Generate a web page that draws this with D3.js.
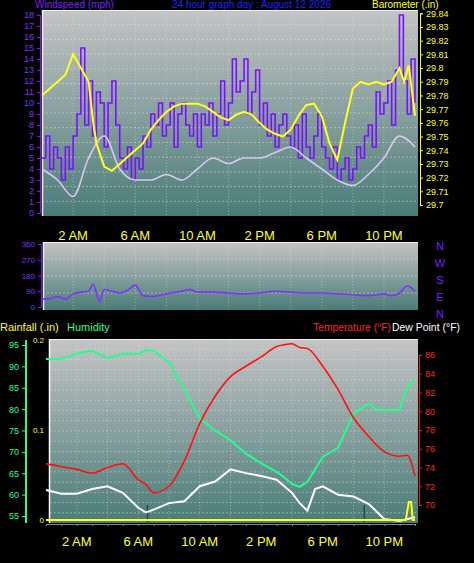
<!DOCTYPE html>
<html><head><meta charset="utf-8">
<script src="https://cdn.jsdelivr.net/npm/d3@7"></script>
<style>body{margin:0;background:#000}svg{display:block}</style>
</head><body><svg id="c" width="474" height="563"></svg>
<script>
// ---- data ----
const timeLabels = ["2 AM","6 AM","10 AM","2 PM","6 PM","10 PM"];
const timeLabelHours = [2,6,10,14,18,22];
const windTicks = d3.range(0,19);
const baroTicks = [29.7,29.71,29.72,29.73,29.74,29.75,29.76,29.77,29.78,29.79,29.8,29.81,29.82,29.83,29.84];
// windspeed every 15 min
const windGust = [5,7,4,6, 5,3,6,4, 7,9,15,8, 12,7,11,10, 6,10,12,8, 5,4,6,3, 5,4,7,6, 9,8,10,7,
  8,10,6,9, 10,8,7,9, 6,9,8,10, 7,9,12,8, 10,14,11,12, 14,9,11,13, 8,10,7,9, 6,8,9,7,
  6,8,5,9, 6,5,7,9, 6,5,4,6, 3,4,5,3, 4,6,5,7, 8,6,11,9, 10,12,8,13, 18,12,9,14,10];
// average wind hourly
const windAvg = [4,3,1.5,5,7,4,3,3,3.5,3,4,5,4.5,5,5,5.5,6,5,4,3,2.5,3.5,5,7,6];
const baroHours = [0,0.5,1,1.5,2,2.5,3,3.3,3.5,4,4.5,5,5.5,6,6.5,7,7.5,8,8.5,9,9.5,10,10.5,11,11.5,12,12.5,13,13.5,14,14.5,15,15.5,16,16.5,17,17.5,18,18.5,19,19.5,20,20.5,21,21.5,22,22.5,23,23.3,23.6,24];
const baroVals = [29.78,29.785,29.79,29.795,29.81,29.80,29.79,29.76,29.745,29.728,29.725,29.73,29.735,29.74,29.745,29.755,29.762,29.768,29.772,29.774,29.774,29.774,29.772,29.768,29.764,29.762,29.766,29.768,29.766,29.76,29.755,29.752,29.75,29.755,29.765,29.773,29.774,29.765,29.745,29.733,29.76,29.785,29.79,29.788,29.79,29.788,29.79,29.80,29.79,29.802,29.765];
const dirHours = [0,0.5,1,1.5,2,2.5,3,3.3,3.7,4,4.5,5,5.5,6,6.5,7,8,9,9.5,10,11,12,13,14,15,16,17,18,19,20,21,22,22.5,23,23.5,24];
const dirVals = [45,48,60,45,75,85,90,130,30,100,90,80,95,125,65,60,75,90,100,85,85,80,75,80,90,85,80,80,75,70,65,75,65,80,120,90];
const dirLabels = ["N","W","S","E","N"];
const humTicks = [55,60,65,70,75,80,85,90,95];
const tempTicks = [70,72,74,76,78,80,82,84,86];
const rainTicks = [0,0.1,0.2];
const hrHours = [0,1,2,3,4,5,6,6.5,7,8,9,10,11,12,13,14,15,15.5,16,16.5,17,18,19,20,21,21.5,22,23,23.5,24];
const temp = [74.4,74.1,73.8,73.4,74.0,74.4,72.7,72.2,71.3,72.0,74.7,78.7,81.6,83.7,84.8,85.8,86.9,87.1,87.2,86.8,86.7,84.8,82.3,79.3,77.3,76.4,75.7,75.2,75.3,73.1];
const humidity = [91.7,91.7,93,93.7,91.9,92.9,92.9,93.8,93.6,91,84.5,77.8,75,72.7,69.6,67.3,65.3,64,62.5,61.8,63,68.8,71,79,81.3,79.8,79.8,79.8,85.2,86.8];
const dewHours = [0,1,2,3,4,5,6,6.5,7,8,9,10,11,12,13,14,15,16,16.5,17,17.5,18,19,20,21,22,23,24];
const dew = [71.6,71.2,71.2,71.7,72.0,71.3,69.7,69.2,69.5,70.2,70.4,72.0,72.5,73.8,73.4,73.1,72.7,71.3,70.2,69.4,71.7,72.0,71.1,70.9,70.1,68.5,68.3,68.7];
const rainHours = [0,23.4,23.6,23.75,23.85,24];
const rain = [0,0,0.02,0.02,0,0];

// ---- drawing ----
const svg = d3.select("#c");
const F = "Liberation Sans, Arial, sans-serif";
const x = d3.scaleLinear().domain([0,24]).range([42,415]);

const defs = svg.append("defs");
const g = defs.append("linearGradient").attr("id","bg").attr("x1",0).attr("y1",0).attr("x2",0).attr("y2",1);
g.append("stop").attr("offset","0%").attr("stop-color","#c4c4c4");
g.append("stop").attr("offset","100%").attr("stop-color","#4a7c78");

function panel(x0,y0,x1,y1,nh){
  svg.append("rect").attr("x",x0).attr("y",y0).attr("width",x1-x0).attr("height",y1-y0).attr("fill","url(#bg)");
  for(let i=1;i<nh;i++){const yy=y0+(y1-y0)*i/nh;
    svg.append("line").attr("x1",x0).attr("x2",x1).attr("y1",yy).attr("y2",yy).attr("stroke","#e8e8e8").attr("stroke-opacity",0.45).attr("stroke-dasharray","2,2");}
  for(let h=2;h<24;h+=2){const xx=x(h);
    svg.append("line").attr("x1",xx).attr("x2",xx).attr("y1",y0).attr("y2",y1).attr("stroke","#e8e8e8").attr("stroke-opacity",0.4).attr("stroke-dasharray","1,2");}
  svg.append("line").attr("x1",x0).attr("x2",x1).attr("y1",y0+0.5).attr("y2",y0+0.5).attr("stroke","#eee");
  svg.append("line").attr("x1",x0+0.5).attr("x2",x0+0.5).attr("y1",y0).attr("y2",y1).attr("stroke","#eee").attr("stroke-width",1.5);
}
function timeAxis(y){
  svg.selectAll(null).data(timeLabelHours).enter().append("text").attr("x",d=>x(d)).attr("y",y)
   .attr("text-anchor","middle").attr("fill","#ffff33").attr("font-family",F).attr("font-size",13).text((d,i)=>timeLabels[i]);
}

// --- top panel ---
const yW = d3.scaleLinear().domain([0,18]).range([213,15]);
const yB = d3.scaleLinear().domain([29.7,29.84]).range([205,13.3]);
panel(42,10,418,216,14);
const wl = d3.line().x((d,i)=>x(i*0.25)).y(d=>yW(d)).curve(d3.curveStepAfter);
svg.append("path").attr("d",wl(windGust)).attr("fill","none").attr("stroke","#7a10ff").attr("stroke-width",1.6);
svg.append("path").attr("d",d3.line().x((d,i)=>x(i)).y(d=>yW(d)).curve(d3.curveMonotoneX)(windAvg)).attr("fill","none").attr("stroke","#d8c8f0").attr("stroke-width",1.6);
svg.append("path").attr("d",d3.line().x((d,i)=>x(baroHours[i])).y(d=>yB(d))(baroVals)).attr("fill","none").attr("stroke","#ffff20").attr("stroke-width",2);
const gl = svg.append("g").attr("transform","translate(40,0)").call(d3.axisLeft(yW).tickValues(windTicks).tickSize(3).tickFormat(d3.format("d")));
gl.selectAll("text").attr("fill","#8030ff").attr("font-family",F).attr("font-size",9);
gl.selectAll("line,path").attr("stroke","#7a10ff");
const gr = svg.append("g").attr("transform","translate(420,0)").call(d3.axisRight(yB).tickValues(baroTicks).tickSize(3).tickFormat(d=>d3.format(".2f")(d).replace(/0$/,"").replace(/\.$/,"")));
gr.selectAll("text").attr("fill","#ffff20").attr("font-family",F).attr("font-size",9);
gr.selectAll("line,path").attr("stroke","#ffff20");
svg.append("text").attr("x",35).attr("y",8).attr("fill","#7a20ff").attr("font-family",F).attr("font-size",10).text("Windspeed (mph)");
svg.append("text").attr("x",172).attr("y",8).attr("fill","#2020ff").attr("font-family",F).attr("font-size",10).text("24 hour graph day : August 12 2026");
svg.append("text").attr("x",372).attr("y",8).attr("fill","#ffff20").attr("font-family",F).attr("font-size",10).text("Barometer (.in)");
timeAxis(240);

// --- direction panel ---
const yD = d3.scaleLinear().domain([0,360]).range([307,244]);
panel(43,242,418,310,4);
svg.append("path").attr("d",d3.line().x((d,i)=>x(dirHours[i])).y(d=>yD(d)).curve(d3.curveMonotoneX)(dirVals)).attr("fill","none").attr("stroke","#8030ff").attr("stroke-width",1.6);
const gd = svg.append("g").attr("transform","translate(41,0)").call(d3.axisLeft(yD).tickValues([0,90,180,270,360]).tickSize(3));
gd.selectAll("text").attr("fill","#8030ff").attr("font-family",F).attr("font-size",8);
gd.selectAll("line,path").attr("stroke","#7a10ff");
svg.selectAll(null).data(dirLabels).enter().append("text").attr("x",440).attr("y",(d,i)=>250+i*17).attr("text-anchor","middle")
  .attr("fill","#7a20ff").attr("font-family",F).attr("font-size",11).text(d=>d);

// legend
svg.append("text").attr("x",0).attr("y",331).attr("fill","#ffff20").attr("font-family",F).attr("font-size",11).text("Rainfall (.in)");
svg.append("text").attr("x",67).attr("y",331).attr("fill","#20ff90").attr("font-family",F).attr("font-size",11).text("Humidity");
svg.append("text").attr("x",313).attr("y",331).attr("fill","#ff2020").attr("font-family",F).attr("font-size",10.5).attr("textLength",78).attr("lengthAdjust","spacingAndGlyphs").text("Temperature (°F)");
svg.append("text").attr("x",392).attr("y",331).attr("fill","#ffffff").attr("font-family",F).attr("font-size",10.5).attr("textLength",68).attr("lengthAdjust","spacingAndGlyphs").text("Dew Point (°F)");

// --- bottom panel ---
const xb = d3.scaleLinear().domain([0,24]).range([46,415]);
const yH = d3.scaleLinear().domain([55,95]).range([516,345]);
const yT = d3.scaleLinear().domain([70,86]).range([505,355]);
const yR = d3.scaleLinear().domain([0,0.2]).range([520,340]);
svg.append("rect").attr("x",49).attr("y",339).attr("width",369).attr("height",184).attr("fill","url(#bg)");
for(let i=1;i<18;i++){const yy=339+184*i/18;
  svg.append("line").attr("x1",50).attr("x2",418).attr("y1",yy).attr("y2",yy).attr("stroke","#e8e8e8").attr("stroke-opacity",0.4).attr("stroke-dasharray","2,2");}
for(let h=2;h<24;h+=2){svg.append("line").attr("x1",xb(h)).attr("x2",xb(h)).attr("y1",340).attr("y2",523).attr("stroke","#e8e8e8").attr("stroke-opacity",0.4).attr("stroke-dasharray","1,2");}
svg.append("line").attr("x1",49.5).attr("x2",49.5).attr("y1",339).attr("y2",523).attr("stroke","#fff").attr("stroke-width",1.5);
svg.append("line").attr("x1",49).attr("x2",418).attr("y1",339.5).attr("y2",339.5).attr("stroke","#eee");
[6.6,20.7].forEach(h=>svg.append("line").attr("x1",xb(h)).attr("x2",xb(h)).attr("y1",505).attr("y2",524).attr("stroke","#205030").attr("stroke-width",1.5));
svg.append("path").attr("d",d3.line().x((d,i)=>xb(dewHours[i])).y(d=>yT(d))(dew)).attr("fill","none").attr("stroke","#fff").attr("stroke-width",2);
svg.append("path").attr("d",d3.line().x((d,i)=>xb(hrHours[i])).y(d=>yH(d))(humidity)).attr("fill","none").attr("stroke","#20ff90").attr("stroke-width",2);
svg.append("path").attr("d",d3.line().x((d,i)=>xb(hrHours[i])).y(d=>yT(d)).curve(d3.curveMonotoneX)(temp)).attr("fill","none").attr("stroke","#ff1010").attr("stroke-width",1.6);
svg.append("path").attr("d",d3.line().x((d,i)=>xb(rainHours[i])).y(d=>yR(d))(rain)).attr("fill","none").attr("stroke","#ffff20").attr("stroke-width",2);
const gh = svg.append("g").attr("transform","translate(25,0)").call(d3.axisLeft(yH).tickValues(humTicks).tickSize(3));
gh.selectAll("text").attr("fill","#20ff90").attr("font-family",F).attr("font-size",9);
gh.selectAll("line").attr("stroke","#20ff90");
svg.append("line").attr("x1",26).attr("x2",26).attr("y1",340).attr("y2",523).attr("stroke","#20ff90").attr("stroke-width",2);
const grn = svg.append("g").attr("transform","translate(47,0)").call(d3.axisLeft(yR).tickValues(rainTicks).tickSize(0).tickFormat(d=>d===0?"0":d3.format(".1f")(d)));
grn.selectAll("text").attr("fill","#ffff20").attr("font-family",F).attr("font-size",8);
grn.select("path").remove();
const gt = svg.append("g").attr("transform","translate(419,0)").call(d3.axisRight(yT).tickValues(tempTicks).tickSize(3));
gt.selectAll("text").attr("fill","#ff2020").attr("font-family",F).attr("font-size",9);
gt.selectAll("line,path").attr("stroke","#ff1010");
const gx = svg.append("g").attr("transform","translate(0,524)").call(d3.axisBottom(xb).tickValues(d3.range(0,25)).tickSize(2).tickFormat(""));
gx.selectAll("line,path").attr("stroke","#888");
svg.selectAll(null).data(timeLabelHours).enter().append("text").attr("x",d=>xb(d)).attr("y",546)
  .attr("text-anchor","middle").attr("fill","#ffff33").attr("font-family",F).attr("font-size",13).text((d,i)=>timeLabels[i]);
</script></body></html>
